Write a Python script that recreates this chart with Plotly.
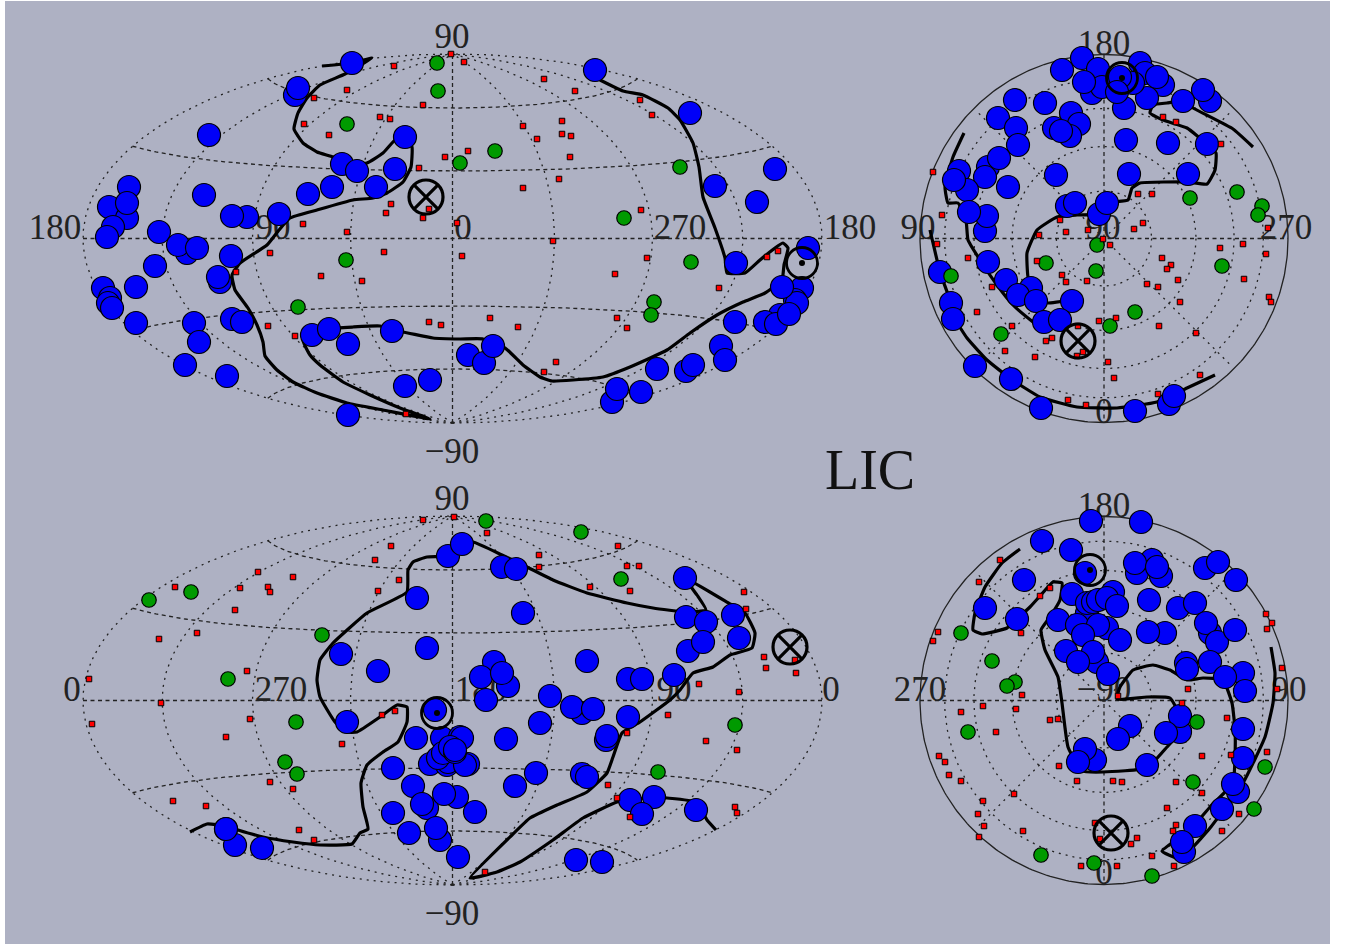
import numpy as np
import plotly.graph_objects as go

# ---- values, in each panel's own axis units ----
P1_BLUE = [(352,63),(295,95),(298,88),(209,135),(405,137),(342,164),(357,171),(395,169),(376,187),(332,187),(308,194),
 (279,214),(247,217),(232,216),(204,195),(129,187),(109,207),(127,218),(127,203),(113,227),(107,237),(159,232),(187,253),
 (178,245),(197,248),(231,256),(155,266),(220,282),(218,277),(103,288),(110,298),(108,303),(112,308),(136,287),(136,323),
 (194,323),(199,342),(232,319),(242,322),(185,365),(227,376),(312,335),(329,329),(348,344),(392,331),(405,386),(430,380),
 (348,415),(468,355),(484,363),(493,346),(612,402),(617,389),(641,392),(657,369),(686,371),(693,365),(721,346),(725,360),
 (735,322),(802,288),(795,300),(797,303),(782,287),(780,315),(765,322),(776,324),(789,314),(808,248),(736,263),(595,70),
 (690,113),(775,169),(715,186),(757,202)]
P1_GREEN = [(437,63),(438,91),(347,124),(460,163),(495,151),(680,167),(624,218),(346,260),(298,307),(691,262),(654,302),(651,315)]
P1_RED = [(451,54),(394,66),(347,90),(314,98),(423,105),(380,117),(390,119),(304,124),(329,135),(445,157),(419,168),(391,204),
 (386,213),(429,209),(423,218),(303,224),(347,232),(457,223),(464,62),(544,79),(575,91),(640,100),(652,115),(523,126),(562,121),
 (562,134),(571,136),(537,139),(468,151),(570,157),(559,179),(523,188),(641,210),(384,252),(270,253),(236,272),(321,276),(362,281),
 (268,326),(295,336),(429,322),(441,325),(406,414),(553,241),(462,256),(647,258),(615,274),(719,288),(490,318),(518,327),(617,318),
 (627,328),(556,362),(544,372),(767,257),(778,251)]
P1_CURVE = [(322,66),(352,63),(372,58),(345,74),(320,85),(307,98),(298,113),(294,129),(303,143),(317,152),(333,157),(350,165),(367,163),
 (383,153),(395,140),(405,137),(412,147),(411,167),(403,182),(387,193),(373,198),(353,200),(317,210),(290,218),(279,230),(267,245),
 (240,263),(232,275),(235,290),(248,308),(257,325),(263,342),(265,356),(277,370),(293,382),(317,393),(347,403),(383,410),(430,419),
 (400,408),(370,395),(343,382),(320,365),(310,355),(303,340),(329,329),(353,327),(380,326),(392,331),(403,332),(433,338),(460,339),
 (483,339),(493,346),(505,348),(523,365),(540,377),(552,381),(573,380),(603,377),(630,367),(667,350),(690,333),(717,315),(743,302),
 (765,293),(782,280),(784,265),(788,248),(783,243),(775,248),(760,260),(745,273),(727,273),(725,258),(715,228),(703,197),(699,167),
 (693,143),(680,120),(668,108),(643,95),(623,91),(600,80)]
P1_CROSS = [(426,197)]
P1_DOT = [(802,263)]

P2_BLUE = [(1082,58),(1062,70),(1098,69),(1140,63),(1145,73),(1163,85),(1157,77),(1092,93),(1102,87),(1084,82),(1147,98),(1124,108),
 (1133,83),(1120,77),(1117,92),(1015,100),(1045,103),(1071,113),(998,118),(1016,128),(1079,124),(1070,136),(1054,128),(1061,131),(1018,145),
 (1126,140),(1168,143),(1207,144),(1210,101),(1203,90),(1183,101),(988,167),(999,158),(985,177),(959,171),(967,190),(954,180),(1008,187),
 (1056,175),(1129,174),(1188,174),(1067,206),(1075,203),(1099,214),(1107,203),(985,231),(987,216),(969,212),(988,262),(940,272),(1006,280),
 (1031,288),(1018,295),(1036,301),(1072,301),(1044,322),(1060,320),(951,303),(953,319),(975,366),(1011,379),(1041,408),(1135,411),(1169,404),(1174,396)]
P2_GREEN = [(1190,198),(1237,192),(1262,206),(1258,215),(1097,245),(1046,263),(1096,271),(1222,266),(951,276),(1135,312),(1110,326),(1001,334)]
P2_RED = [(1163,117),(1176,122),(1221,144),(933,172),(1138,194),(1152,194),(942,215),(1060,220),(1039,235),(1066,232),(1088,230),(1103,239),
 (1143,223),(1134,229),(1110,245),(1268,228),(1243,244),(1220,248),(1266,254),(937,244),(968,258),(1037,261),(1162,258),(1171,265),(1167,269),
 (1062,275),(1066,282),(1087,281),(1178,280),(1147,284),(1158,287),(1244,279),(992,287),(1269,297),(1271,302),(1180,302),(977,312),(1116,318),
 (1099,321),(1159,326),(1012,326),(1196,333),(1052,338),(1046,341),(1078,326),(1083,352),(1077,356),(1005,351),(1035,357),(1108,362),(1114,378),
 (1200,375),(1158,394),(1068,400),(1086,405)]
P2_CURVE_A = [(1215,375),(1187,388),(1157,402),(1117,408),(1077,407),(1040,397),(1011,379),(987,360),(967,338),(955,319),(951,303),(940,272),(933,243),(930,230)]
P2_CURVE_B = [(964,133),(953,157),(945,187),(948,203),(958,203),(966,220),(968,240),(980,260),(997,285),(1013,305),(1033,322),(1044,330),(1060,320),
 (1072,301),(1048,303),(1036,301),(1028,277),(1027,253),(1037,230),(1057,217),(1077,215),(1099,214),(1107,203),(1128,200),(1132,188),(1140,183),
 (1188,182),(1207,184),(1215,170),(1216,153),(1207,144),(1187,128),(1163,120),(1150,113),(1153,105),(1167,103),(1183,101),(1193,108),(1233,129),(1253,147)]
P2_CROSS = [(1078,341)]
P2_DOT = [(1122,78)]

P3_BLUE = [(448,556),(417,598),(341,654),(378,671),(427,648),(462,544),(502,567),(516,569),(523,613),(685,578),(686,617),(706,622),(733,615),(739,638),
 (688,651),(703,642),(674,675),(587,661),(628,679),(642,679),(508,686),(494,662),(481,677),(502,673),(486,700),(550,696),(582,713),(572,707),(593,709),
 (628,717),(540,723),(506,739),(606,740),(607,736),(536,773),(515,786),(582,774),(587,777),(630,800),(654,797),(642,814),(696,810),(576,860),(602,862),
 (475,812),(458,857),(468,764),(435,710),(347,722),(416,738),(393,768),(413,786),(393,813),(427,808),(422,804),(457,797),(444,794),(409,833),(440,840),
 (436,828),(226,829) ,(235,845),(262,848),(442,738),(460,737),(462,738),(430,764),(447,765),(448,762),(438,758),(443,753),(465,765),(450,747),(455,752),(455,750),(226,829)]
P3_GREEN = [(149,600),(191,592),(228,679),(322,635),(486,521),(581,532),(621,579),(296,722),(285,762),(297,774),(735,725),(658,772)]
P3_RED = [(454,517),(423,520),(391,546),(375,560),(399,580),(378,591),(175,587),(258,572),(293,577),(240,588),(268,587),(270,592),(235,610),(197,633),(159,639),
 (247,671),(89,679),(161,703),(92,724),(487,533),(539,555),(539,567),(618,546),(627,566),(639,566),(590,587),(630,591),(744,592),(746,609),(764,657),(766,668),
 (795,660),(796,673),(699,684),(739,692),(250,719),(226,737),(342,744),(382,715),(395,711),(270,782),(293,789),(173,801),(206,806),(299,830),(314,840),(668,715),
 (627,733),(706,741),(737,750),(608,785),(617,798),(630,817),(735,807),(737,813),(485,872)]
P3_CURVE = [(190,832),(207,824),(226,826),(238,830),(263,837),(293,842),(320,845),(352,844),(360,833),(368,829),(363,807),(361,783),(367,765),(383,752),(398,742),
 (407,722),(407,707),(397,705),(380,717),(357,732),(347,732),(335,722),(320,697),(317,680),(320,660),(333,643),(367,613),(407,592),(408,570),(413,562),(427,557),
 (448,556),(462,544),(473,542),(502,555),(527,567),(553,580),(587,593),(627,603),(653,608),(686,612),(706,610),(697,595),(685,578),(730,604),(745,613),(755,633),
 (752,648),(730,655),(713,667),(693,673),(680,690),(670,700),(640,722),(622,733),(613,757),(607,773),(587,792),(557,805),(530,818),(512,835),(470,878),(497,872),
 (520,862),(553,840),(583,818),(617,802),(630,800),(654,797),(667,798),(696,802),(707,820),(716,830)]
P3_CROSS = [(790,647)]
P3_DOT = [(437,713)]

P4_BLUE = [(1091,521),(1141,522),(1042,541),(1071,550),(1024,580),(985,608),(1017,619),(1137,573),(1152,560),(1161,576),(1135,563),(1157,567),(1205,568),(1218,562),
 (1236,580),(1149,600),(1178,608),(1195,603),(1210,633),(1206,623),(1217,642),(1235,630),(1165,633),(1148,632),(1085,573),(1087,613),(1072,594),(1087,603),(1093,602),
 (1098,600),(1113,592),(1107,598),(1117,606),(1058,620),(1077,625),(1107,628),(1098,625),(1083,635),(1120,640),(1066,651),(1097,662),(1093,652),(1078,662),(1108,674),
 (1186,663),(1187,669),(1210,662),(1243,673),(1225,677),(1245,691),(1180,732),(1180,716),(1166,733),(1130,726),(1118,739),(1243,729),(1243,758),(1095,760),(1085,749),
 (1078,762),(1147,765),(1238,792),(1233,784),(1222,809),(1195,826),(1184,852),(1182,842)]
P4_GREEN = [(961,633),(992,661),(1015,682),(1007,686),(968,732),(1197,722),(1265,767),(1193,782),(1254,809),(1041,855),(1094,863),(1152,876)]
P4_RED = [(1000,560),(979,582),(1050,588),(1040,596),(1021,633),(938,632),(933,641),(1266,614),(1272,623),(1267,629),(1282,668),(1277,689),(1188,689),(1118,696),(1182,703),
 (1022,695),(983,706),(961,712),(1016,709),(1050,720),(1058,719),(1227,718),(996,732),(939,756),(945,762),(949,775),(961,781),(1059,766),(1077,781),(1113,781),(1122,782),
 (1176,782),(1202,756),(1231,755),(1267,752),(1202,793),(1014,794),(983,801),(978,814),(984,826),(979,837),(1023,831),(1167,808),(1239,814),(1222,831),(1176,825),(1173,831),
 (1137,838),(1131,844),(1152,856),(1100,839),(1095,823),(1117,866),(1081,866),(1174,866)]
P4_CURVE = [(1020,549),(1002,563),(985,587),(975,613),(973,630),(982,634),(1007,628),(1017,619),(1030,607),(1040,596),(1053,582),(1062,583),(1060,600),(1050,617),(1041,630),
 (1045,650),(1058,677),(1062,703),(1068,747),(1082,771),(1103,772),(1147,768),(1167,747),(1180,732),(1180,716),(1170,698),(1147,697),(1117,699),(1120,687),(1133,670),
 (1153,665),(1170,670),(1187,680),(1203,678),(1223,680),(1232,703),(1235,729),(1235,757),(1233,783),(1210,807),(1190,830),(1162,851),(1177,858),(1193,847),(1210,828),
 (1243,783),(1265,737),(1273,703),(1275,673),(1271,647)]
P4_CROSS = [(1111,833)]
P4_DOT = [(1090,570)]

P1_LABELS = [("90",452,39),("\u221290",452,454),("180",55,230),("90",273,230),("0",463,230),("270",680,230),("180",850,230)]
P2_LABELS = [("180",1104,46),("0",1104,414),("90",918,230),("90",1103,230),("270",1286,230)]
P3_LABELS = [("90",452,501),("\u221290",452,916),("0",72,692),("270",281,692),("180",481,692),("90",674,692),("0",831,692)]
P4_LABELS = [("180",1104,508),("0",1104,875),("270",920,692),("\u221290",1104,692),("90",1289,692)]
TITLE = "LIC"
MERIDIANS = [-135,-90,-45,45,90,135]
PARALLELS = [-60,-30,0,30,60]
RINGS = [30,60,90,120]
SPOKES = [45,135,225,315]

BG = "#aeb1c3"
SERIF = "Liberation Serif"

# panel boxes in page pixels: (x0, x1, y0, y1)
BOXES = [(0,900,0,480),(900,1346,0,480),(0,900,480,944),(900,1346,480,944)]
W, H = 1346, 944
fig = go.Figure()
for i, (x0,x1,y0,y1) in enumerate(BOXES, start=1):
    fig.update_layout({
        f"xaxis{i}": dict(domain=[x0/W,x1/W], range=[x0,x1], visible=False, anchor=f"y{i}", fixedrange=True),
        f"yaxis{i}": dict(domain=[1-y1/H,1-y0/H], range=[y1,y0], visible=False, anchor=f"x{i}", fixedrange=True),
    })

def add_line(p, xs, ys, dash, width=1.3, color="#222"):
    fig.add_trace(go.Scatter(x=xs, y=ys, mode="lines", xaxis=f"x{p}", yaxis=f"y{p}", hoverinfo="skip",
                             line=dict(color=color, width=width, dash=dash), showlegend=False))

def hammer(lon, lat, cx, cy):
    l, f = np.radians(lon), np.radians(lat)
    d = np.sqrt(1 + np.cos(f)*np.cos(l/2))
    return cx + 369.5*np.cos(f)*np.sin(l/2)/d, cy - 184.5*np.sin(f)/d

def hammer_grid(p, cx, cy):
    lat = np.linspace(-90,90,181)
    for m in MERIDIANS:
        x,y = hammer(np.full_like(lat,m), lat, cx, cy); add_line(p,x,y,"2px,5px")
    for m in (-180,180):
        x,y = hammer(np.full_like(lat,m), lat, cx, cy); add_line(p,x,y,"2px,5px")
    x,y = hammer(np.zeros_like(lat), lat, cx, cy); add_line(p,x,y,"4px,3px")
    lon = np.linspace(-180,180,181)
    for q in PARALLELS:
        x,y = hammer(lon, np.full_like(lon,q), cx, cy); add_line(p,x,y,"4px,3.5px")

def polar_grid(p, cx, cy, R=184.0):
    t = np.linspace(0,2*np.pi,361)
    for c in RINGS:
        r = R*np.sin(np.radians(c)/2)
        add_line(p, cx+r*np.cos(t), cy+r*np.sin(t), "2px,5px")
    add_line(p, cx+R*np.cos(t), cy+R*np.sin(t), "solid", width=1.3)
    add_line(p, [cx-R,cx+R], [cy,cy], "4px,3.5px")
    add_line(p, [cx,cx], [cy-R,cy+R], "4px,3.5px")
    r = R*np.sin(np.radians(150)/2)
    for a in SPOKES:
        add_line(p, [cx, cx+r*np.cos(np.radians(a))], [cy, cy+r*np.sin(np.radians(a))], "2px,5px")

def labels(p, items):
    fig.add_trace(go.Scatter(x=[a[1] for a in items], y=[a[2] for a in items], text=[a[0] for a in items],
        mode="text", textposition="middle center", xaxis=f"x{p}", yaxis=f"y{p}", hoverinfo="skip", showlegend=False,
        cliponaxis=False, textfont=dict(family=SERIF, size=35, color="#222")))

def curve(p, pts):
    add_line(p, [a[0] for a in pts], [a[1] for a in pts], "solid", width=3.2, color="black")
    fig.data[-1].line.shape = "spline"
    fig.data[-1].line.smoothing = 0.4

def pts(p, items, color, size, lw, symbol="circle"):
    fig.add_trace(go.Scatter(x=[a[0] for a in items], y=[a[1] for a in items], mode="markers", xaxis=f"x{p}", yaxis=f"y{p}",
        hoverinfo="skip", showlegend=False, cliponaxis=False,
        marker=dict(color=color, size=size, symbol=symbol, line=dict(color="black", width=lw))))

def panel(p, blue, green, red, curves, cross, dot, labs):
    labels(p, labs)
    for c in curves:
        curve(p, c)
    pts(p, blue, "#0000f8", 23, 1.2)
    pts(p, green, "#009a00", 14.5, 1.2)
    pts(p, red, "#ff0000", 5.5, 1.0, "square")
    fig.add_trace(go.Scatter(x=[a[0] for a in cross], y=[a[1] for a in cross], mode="markers", xaxis=f"x{p}", yaxis=f"y{p}",
        hoverinfo="skip", showlegend=False, cliponaxis=False,
        marker=dict(symbol="circle-x-open", size=34, color="black", line=dict(width=3.2))))
    fig.add_trace(go.Scatter(x=[a[0] for a in dot], y=[a[1] for a in dot], mode="markers", xaxis=f"x{p}", yaxis=f"y{p}",
        hoverinfo="skip", showlegend=False, cliponaxis=False,
        marker=dict(symbol="circle-open", size=31, color="black", line=dict(width=2.8))))
    pts(p, dot, "black", 6, 0)

hammer_grid(1, 452.5, 238.5)
polar_grid(2, 1104, 238.5)
hammer_grid(3, 452.5, 700.5)
polar_grid(4, 1104, 700.5)
panel(1, P1_BLUE, P1_GREEN, P1_RED, [P1_CURVE], P1_CROSS, P1_DOT, P1_LABELS)
panel(2, P2_BLUE, P2_GREEN, P2_RED, [P2_CURVE_A, P2_CURVE_B], P2_CROSS, P2_DOT, P2_LABELS)
panel(3, P3_BLUE, P3_GREEN, P3_RED, [P3_CURVE], P3_CROSS, P3_DOT, P3_LABELS)
panel(4, P4_BLUE, P4_GREEN, P4_RED, [P4_CURVE], P4_CROSS, P4_DOT, P4_LABELS)

fig.update_layout(
    width=W, height=H, margin=dict(l=0,r=0,t=0,b=0), autosize=False, showlegend=False,
    paper_bgcolor="white", plot_bgcolor="rgba(0,0,0,0)",
    shapes=[dict(type="rect", xref="paper", yref="paper", x0=5/W, x1=1330/W, y0=0, y1=1-1/H,
                 fillcolor=BG, line_width=0, layer="below")],
    annotations=[dict(text=TITLE, xref="paper", yref="paper", x=870/W, y=1-470/H, showarrow=False,
                      xanchor="center", yanchor="middle", font=dict(family=SERIF, size=56, color="#111"))],
)
fig.write_html("out.html", config=dict(displayModeBar=False),
               post_script="document.body.style.margin='0';document.body.style.overflow='hidden';")
